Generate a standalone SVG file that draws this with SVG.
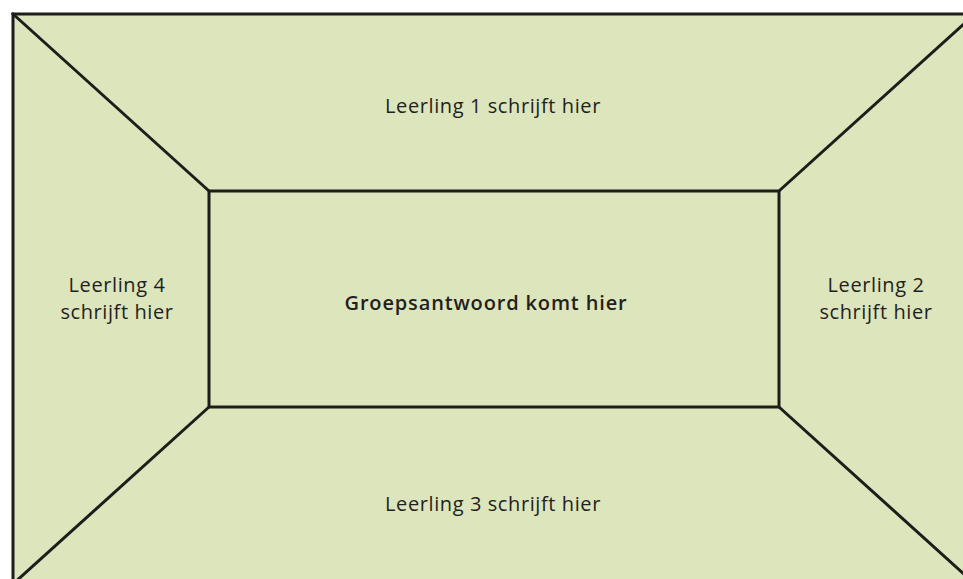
<svg xmlns="http://www.w3.org/2000/svg" width="963" height="579" viewBox="0 0 963 579">
<style>
.area{fill:#dde5bd;stroke:none}
.ln{stroke:#1d1d1b;stroke-width:3;fill:none;stroke-linecap:square}
.t{font-family:"Open Sans","Liberation Sans",sans-serif;font-size:20px;letter-spacing:0.6px;fill:#231f20;text-anchor:middle}
.b{font-weight:600;letter-spacing:0.85px}
</style>
<rect class="area" x="13" y="14" width="962" height="580"/>
<g id="connectors">
<path class="ln" d="M13,590 L13,14 L975,14"/>
<line class="ln" x1="13" y1="14" x2="209" y2="191"/>
<line class="ln" x1="779" y1="191" x2="975" y2="14"/>
<line class="ln" x1="209" y1="407" x2="13" y2="584"/>
<line class="ln" x1="779" y1="407" x2="975" y2="584"/>
</g>
<g id="center"><rect class="ln" x="209" y="191" width="570" height="216"/><text class="t b" x="486" y="310">Groepsantwoord komt hier</text></g>
<g id="leerling1"><text class="t" x="493" y="113">Leerling 1 schrijft hier</text></g>
<g id="leerling2"><text class="t" x="876" y="292">Leerling 2</text><text class="t" x="876" y="319">schrijft hier</text></g>
<g id="leerling3"><text class="t" x="493" y="511">Leerling 3 schrijft hier</text></g>
<g id="leerling4"><text class="t" x="117" y="292">Leerling 4</text><text class="t" x="117" y="319">schrijft hier</text></g>
</svg>
